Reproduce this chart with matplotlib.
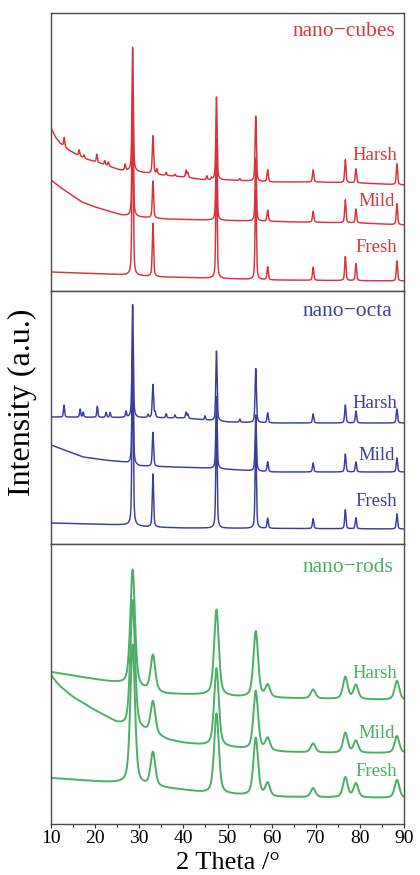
import numpy as np
import matplotlib
matplotlib.use("Agg")
import matplotlib.pyplot as plt
from matplotlib.ticker import MultipleLocator

plt.rcParams['font.family'] = ['Liberation Serif', 'DejaVu Serif']
plt.rcParams['mathtext.fontset'] = 'stix'

# ---------------- data ----------------
two_theta_range = [10, 90]
xticks = [10, 20, 30, 40, 50, 60, 70, 80, 90]

# CeO2 fluorite reflections (2θ, degrees)
ceo2_pos = [28.5, 33.1, 47.5, 56.4, 59.1, 69.4, 76.7, 79.1, 88.4]

# ---- nano-cubes (panel units: 0 = bottom of panel) ----
cubes_fresh_bg_x = [10, 20, 27, 35, 45, 60, 90]
cubes_fresh_bg_y = [19, 17.5, 16, 14, 13, 11, 10]
cubes_fresh_amp = [170, 53, 115, 90, 13, 13, 24, 17, 20]

cubes_mild_bg_x = [10, 12, 14, 17, 20, 23, 26, 30, 36, 45, 66, 80, 90]
cubes_mild_bg_y = [111, 104, 98, 89, 84, 80, 76, 74, 72, 71, 69, 68, 66]
cubes_mild_amp = [125, 37, 82, 63, 11, 11, 23, 14, 21]

cubes_harsh_bg_x = [10, 11, 12, 14, 16, 18, 21, 25.6, 30, 35, 40, 45, 50, 60, 70, 80, 90]
cubes_harsh_bg_y = [163, 154, 148, 141, 136, 132, 128, 121, 119, 116, 114, 111, 111, 109, 109, 108, 106]
cubes_harsh_amp = [124, 38, 83, 65, 12, 12, 23, 14, 21]
cubes_imp_pos = [13.0, 16.4, 17.5, 20.4, 22.2, 23.0, 26.8, 34.0, 36.1, 38.1, 40.6, 41.0, 45.3, 46.4, 52.8]
cubes_imp_amp = [9, 6, 3, 8, 4, 4, 6, 5, 3, 2, 7, 5, 4, 2, 2]

# ---- nano-octa ----
octa_fresh_bg_x = [10, 27, 32, 40, 90]
octa_fresh_bg_y = [21, 19, 17, 16, 15]
octa_fresh_amp = [180, 53, 112, 87, 10, 10, 19, 11, 15]

octa_mild_bg_x = [10, 13, 17.3, 22, 26.4, 30, 45, 60, 90]
octa_mild_bg_y = [99, 94, 87, 84, 82, 78, 76, 72, 72]
octa_mild_amp = [116, 34, 72, 56, 10, 9, 18, 10, 14]

octa_harsh_bg_x = [10, 40, 50, 60, 90]
octa_harsh_bg_y = [127, 126, 122, 121, 121]
octa_harsh_amp = [113, 33, 70, 54, 10, 9, 18, 12, 14]
octa_imp_pos = [12.95, 16.6, 17.3, 20.5, 22.5, 23.4, 27.0, 32.0, 33.6, 36.1, 38.1, 40.6, 41.0, 44.9, 52.8]
octa_imp_amp = [12, 8, 5, 11, 5, 5, 6, 3, 5, 4, 3, 6, 4, 4, 3]

# ---- nano-rods ----
rods_fresh_bg_x = [10, 25, 27, 31, 40, 45, 60, 90]
rods_fresh_bg_y = [46, 41, 40, 38, 34, 31, 27, 26]
rods_fresh_amp = [140, 34, 80, 58, 13, 9, 20, 14, 18]

rods_mild_bg_x = [10, 11, 12, 13.6, 15, 17.3, 19, 21, 23, 24.8, 27, 30, 33, 36.5, 40, 44, 51.6, 56, 62.8, 74, 90]
rods_mild_bg_y = [149, 143, 138, 132, 127, 121, 116, 111, 106, 101, 97, 94, 90, 84, 81, 79, 76, 74, 72, 71, 71]
rods_mild_amp = [128, 32, 78, 59, 12, 9, 20, 12, 17]

rods_harsh_bg_x = [10, 25, 27, 31, 36, 45, 52, 60, 90]
rods_harsh_bg_y = [152, 141, 139, 134, 130, 129, 127, 126, 124]
rods_harsh_amp = [117, 36, 86, 66, 12, 9, 22, 14, 19]

conditions = ['Fresh', 'Mild', 'Harsh']
panel_names = ['nano\u2212cubes', 'nano\u2212octa', 'nano\u2212rods']

# ---------------- styling / layout ----------------
W, H = 420, 875
colors = ['#d8323c', '#3a3d9c', '#4caf68']
text_colors = ['#d8363e', '#3d3f9c', '#4aae66']
# panel pixel extents (top, bottom)
panel_px = [(13, 291), (291, 544), (544, 824)]
left_px, right_px = 51, 404
peak_fwhm = [0.35, 0.35, 1.25]


def pv(x, c, a, w, eta=0.5):
    hw = w / 2.0
    L = hw ** 2 / ((x - c) ** 2 + hw ** 2)
    G = np.exp(-np.log(2) * ((x - c) / hw) ** 2)
    return a * (eta * L + (1 - eta) * G)


def pattern(x, bgx, bgy, amps, fwhm, imp_pos=None, imp_amp=None):
    y = np.interp(x, bgx, bgy)
    for c, a in zip(ceo2_pos, amps):
        y = y + pv(x, c, a, fwhm)
    if imp_pos is not None:
        for c, a in zip(imp_pos, imp_amp):
            y = y + pv(x, c, a, 0.3)
    return y


x = np.linspace(two_theta_range[0], two_theta_range[1], 4001)

panels = [
    [(cubes_fresh_bg_x, cubes_fresh_bg_y, cubes_fresh_amp, None, None),
     (cubes_mild_bg_x, cubes_mild_bg_y, cubes_mild_amp, None, None),
     (cubes_harsh_bg_x, cubes_harsh_bg_y, cubes_harsh_amp, cubes_imp_pos, cubes_imp_amp)],
    [(octa_fresh_bg_x, octa_fresh_bg_y, octa_fresh_amp, None, None),
     (octa_mild_bg_x, octa_mild_bg_y, octa_mild_amp, None, None),
     (octa_harsh_bg_x, octa_harsh_bg_y, octa_harsh_amp, octa_imp_pos, octa_imp_amp)],
    [(rods_fresh_bg_x, rods_fresh_bg_y, rods_fresh_amp, None, None),
     (rods_mild_bg_x, rods_mild_bg_y, rods_mild_amp, None, None),
     (rods_harsh_bg_x, rods_harsh_bg_y, rods_harsh_amp, None, None)],
]

# label pixel positions (y centres) for Fresh, Mild, Harsh and panel title
label_px = [
    ((247, 202, 155), 32),
    ((502, 456, 404), 312),
    ((771, 734, 673), 567),
]
label_right_x = [88.5, 88.0, 88.5]
title_right_x = [88.0, 87.3, 87.6]

fig = plt.figure(figsize=(W / 100, H / 100), dpi=100)
axes = []
for i, (top, bot) in enumerate(panel_px):
    ax = fig.add_axes([left_px / W, 1 - bot / H, (right_px - left_px) / W, (bot - top) / H])
    ph = bot - top
    for j, (bgx, bgy, amps, ip, ia) in enumerate(panels[i]):
        y = pattern(x, bgx, bgy, amps, peak_fwhm[i], ip, ia)
        ax.plot(x, y, color=colors[i], lw=1.05 if i < 2 else 1.4)
    ax.set_xlim(*two_theta_range)
    ax.set_ylim(0, ph)
    ax.set_yticks([])
    for sp in ax.spines.values():
        sp.set_color('#4a4a4a')
        sp.set_linewidth(1.0)
    ys, ty = label_px[i]
    for j, name in enumerate(conditions):
        ax.text(label_right_x[j], bot - ys[j], name, ha='right', va='center',
                color=text_colors[i], fontsize=13.5)
    ax.text(title_right_x[i], bot - ty, panel_names[i], ha='right', va='center',
            color=text_colors[i], fontsize=15.5)
    if i < 2:
        ax.set_xticks([])
    else:
        ax.set_xticks(xticks)
        ax.xaxis.set_minor_locator(MultipleLocator(5))
        ax.tick_params(axis='x', which='major', direction='out', length=3, width=0.8,
                       labelsize=14, pad=1, color='#333333')
        ax.tick_params(axis='x', which='minor', direction='out', length=2, width=0.8,
                       color='#333333')
    axes.append(ax)

fig.text((left_px + right_px) / 2 / W, 1 - 863 / H, '2 Theta /\u00b0', ha='center',
         va='center', fontsize=19)
fig.text(22 / W, 1 - 402 / H, 'Intensity (a.u.)', rotation=90, ha='center', va='center',
         fontsize=23)

fig.savefig('out.png', dpi=100)
